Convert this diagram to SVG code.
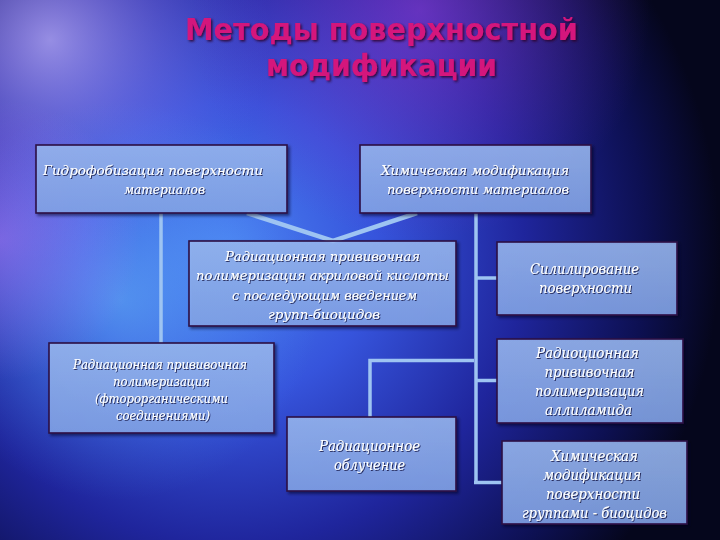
<svg xmlns="http://www.w3.org/2000/svg" width="720" height="540" viewBox="0 0 720 540">
<defs>
<radialGradient id="bgMain" cx="230" cy="250" r="490" gradientUnits="userSpaceOnUse">
<stop offset="0" stop-color="#4a80f0"/>
<stop offset="0.3" stop-color="#3654dc"/>
<stop offset="0.6" stop-color="#1f259c"/>
<stop offset="0.85" stop-color="#0d1052"/>
<stop offset="1" stop-color="#05061c"/>
</radialGradient>
<radialGradient id="glowTL" cx="50" cy="40" r="220" gradientUnits="userSpaceOnUse">
<stop offset="0" stop-color="#c8b8ff" stop-opacity="0.7"/>
<stop offset="0.5" stop-color="#9a84ee" stop-opacity="0.35"/>
<stop offset="1" stop-color="#7a60e0" stop-opacity="0"/>
</radialGradient>
<radialGradient id="glowPurple" cx="420" cy="10" r="230" gradientUnits="userSpaceOnUse">
<stop offset="0" stop-color="#a040e0" stop-opacity="0.55"/>
<stop offset="1" stop-color="#8030c0" stop-opacity="0"/>
</radialGradient>
<radialGradient id="glowCyan" cx="120" cy="300" r="200" gradientUnits="userSpaceOnUse">
<stop offset="0" stop-color="#70d0ff" stop-opacity="0.45"/>
<stop offset="1" stop-color="#50a0ff" stop-opacity="0"/>
</radialGradient>
<radialGradient id="glowPinkL" cx="0" cy="240" r="140" gradientUnits="userSpaceOnUse">
<stop offset="0" stop-color="#c080ff" stop-opacity="0.5"/>
<stop offset="1" stop-color="#c080ff" stop-opacity="0"/>
</radialGradient>
<linearGradient id="boxFill" x1="0" y1="0" x2="0" y2="1">
<stop offset="0" stop-color="#9cbcf6" stop-opacity="0.82"/>
<stop offset="1" stop-color="#86a8ee" stop-opacity="0.82"/>
</linearGradient>
<filter id="tshadow" x="-10%" y="-30%" width="120%" height="160%">
<feDropShadow dx="1" dy="1" stdDeviation="0.6" flood-color="#101040" flood-opacity="0.8"/>
</filter>
<filter id="titleShadow" x="-5%" y="-30%" width="110%" height="160%">
<feDropShadow dx="1.5" dy="1.5" stdDeviation="0.8" flood-color="#2a0628" flood-opacity="0.85"/>
</filter>
<filter id="bshadow" x="-5%" y="-5%" width="112%" height="115%">
<feDropShadow dx="2" dy="2" stdDeviation="1.5" flood-color="#05051a" flood-opacity="0.6"/>
</filter>
</defs>
<style>
.box { fill: url(#boxFill); stroke: #2c0e44; stroke-width: 1.6; filter: url(#bshadow); }
.lbl { font-family: "DejaVu Serif", "Liberation Serif", serif; font-style: italic; fill: #ffffff; text-anchor: middle; filter: url(#tshadow); }
.s13 { font-size: 13px; }
.s12 { font-size: 12px; }
.s14 { font-size: 14px; }
.conn { stroke: #9ec4f2; stroke-width: 3.5; fill: none; stroke-linecap: butt; }
.thick { stroke-width: 4.5; }
.title { font-family: "DejaVu Sans", "Liberation Sans", sans-serif; font-weight: bold; font-size: 31px; fill: #d4147c; text-anchor: middle; filter: url(#titleShadow); }
</style>

<g id="background">
<rect x="0" y="0" width="720" height="540" fill="url(#bgMain)"/>
<rect x="0" y="0" width="720" height="540" fill="url(#glowTL)"/>
<rect x="0" y="0" width="720" height="540" fill="url(#glowPurple)"/>
<rect x="0" y="0" width="720" height="540" fill="url(#glowCyan)"/>
<rect x="0" y="0" width="720" height="540" fill="url(#glowPinkL)"/>
</g>

<g id="title">
<text class="title" x="381.5" y="40" textLength="393" lengthAdjust="spacingAndGlyphs">Методы поверхностной</text>
<text class="title" x="381.5" y="76" textLength="231" lengthAdjust="spacingAndGlyphs">модификации</text>
</g>

<g id="connectors">
<line class="conn" x1="161" y1="213" x2="161" y2="343"/>
<polyline class="conn thick" points="247,213 333,241 417,213"/>
<line class="conn" x1="476" y1="213" x2="476" y2="484"/>
<line class="conn" x1="476" y1="278" x2="497" y2="278"/>
<line class="conn" x1="476" y1="380.5" x2="497" y2="380.5"/>
<line class="conn" x1="474" y1="482.5" x2="502" y2="482.5"/>
<polyline class="conn" points="474,360.5 370,360.5 370,417"/>
</g>

<g id="node-a">
<rect class="box" x="36" y="145" width="251" height="68"/>
<text class="lbl s13" x="153" y="175" textLength="220" lengthAdjust="spacingAndGlyphs">Гидрофобизация поверхности</text>
<text class="lbl s13" x="164.5" y="194" textLength="81" lengthAdjust="spacingAndGlyphs">материалов</text>
</g>

<g id="node-b">
<rect class="box" x="360" y="145" width="231" height="68"/>
<text class="lbl s13" x="475" y="175" textLength="188" lengthAdjust="spacingAndGlyphs">Химическая модификация</text>
<text class="lbl s13" x="478" y="194" textLength="182" lengthAdjust="spacingAndGlyphs">поверхности материалов</text>
</g>

<g id="node-c">
<rect class="box" x="189" y="241" width="267" height="85"/>
<text class="lbl s13" x="322.5" y="261" textLength="195" lengthAdjust="spacingAndGlyphs">Радиационная прививочная</text>
<text class="lbl s13" x="322.5" y="280" textLength="253" lengthAdjust="spacingAndGlyphs">полимеризация акриловой кислоты</text>
<text class="lbl s13" x="324.5" y="300" textLength="185" lengthAdjust="spacingAndGlyphs">с последующим введением</text>
<text class="lbl s13" x="324" y="319" textLength="112" lengthAdjust="spacingAndGlyphs">групп-биоцидов</text>
</g>

<g id="node-d">
<rect class="box" x="497" y="242" width="180" height="73"/>
<text class="lbl s14" x="584.5" y="274" textLength="109" lengthAdjust="spacingAndGlyphs">Силилирование</text>
<text class="lbl s14" x="585.5" y="293" textLength="93" lengthAdjust="spacingAndGlyphs">поверхности</text>
</g>

<g id="node-e">
<rect class="box" x="49" y="343" width="225" height="90"/>
<text class="lbl s12" x="160" y="369" textLength="174" lengthAdjust="spacingAndGlyphs">Радиационная прививочная</text>
<text class="lbl s12" x="161.5" y="386" textLength="97" lengthAdjust="spacingAndGlyphs">полимеризация</text>
<text class="lbl s12" x="161.5" y="403" textLength="133" lengthAdjust="spacingAndGlyphs">(фторорганическими</text>
<text class="lbl s12" x="163" y="420" textLength="94" lengthAdjust="spacingAndGlyphs">соединениями)</text>
</g>

<g id="node-f">
<rect class="box" x="497" y="339" width="186" height="84"/>
<text class="lbl s14" x="587.5" y="358" textLength="103" lengthAdjust="spacingAndGlyphs">Радиоционная</text>
<text class="lbl s14" x="589.5" y="377" textLength="90" lengthAdjust="spacingAndGlyphs">прививочная</text>
<text class="lbl s14" x="589.5" y="396" textLength="109" lengthAdjust="spacingAndGlyphs">полимеризация</text>
<text class="lbl s14" x="588.5" y="415" textLength="87" lengthAdjust="spacingAndGlyphs">аллиламида</text>
</g>

<g id="node-g">
<rect class="box" x="287" y="417" width="169" height="74"/>
<text class="lbl s14" x="369.5" y="451" textLength="101" lengthAdjust="spacingAndGlyphs">Радиационное</text>
<text class="lbl s14" x="369.5" y="470" textLength="71" lengthAdjust="spacingAndGlyphs">облучение</text>
</g>

<g id="node-h">
<rect class="box" x="502" y="441" width="185" height="83"/>
<text class="lbl s14" x="594.5" y="461" textLength="87" lengthAdjust="spacingAndGlyphs">Химическая</text>
<text class="lbl s14" x="592" y="480" textLength="98" lengthAdjust="spacingAndGlyphs">модификация</text>
<text class="lbl s14" x="593" y="499" textLength="94" lengthAdjust="spacingAndGlyphs">поверхности</text>
<text class="lbl s14" x="594.5" y="518" textLength="145" lengthAdjust="spacingAndGlyphs">группами - биоцидов</text>
</g>
</svg>
